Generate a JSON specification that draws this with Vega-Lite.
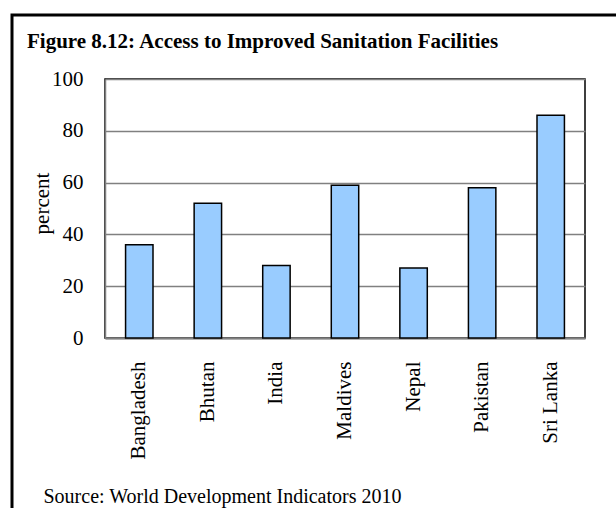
{
  "$schema": "https://vega.github.io/schema/vega-lite/v6.json",
  "autosize": "none",
  "width": 480,
  "height": 259,
  "padding": {"left": 105, "top": 79, "right": 31, "bottom": 170},
  "background": "white",
  "title": {
    "text": "Figure 8.12: Access to Improved Sanitation Facilities",
    "anchor": "start",
    "frame": "group",
    "font": "Liberation Serif",
    "fontSize": 21,
    "fontWeight": "bold",
    "color": "black",
    "dx": -78,
    "dy": 52,
    "offset": 14
  },
  "data": {
    "values": [
      {"country": "Bangladesh", "percent": 36},
      {"country": "Bhutan", "percent": 52},
      {"country": "India", "percent": 28},
      {"country": "Maldives", "percent": 59},
      {"country": "Nepal", "percent": 27},
      {"country": "Pakistan", "percent": 58},
      {"country": "Sri Lanka", "percent": 86}
    ]
  },
  "layer": [
    {
      "mark": {"type": "bar", "fill": "#99CCFF", "stroke": "black", "strokeWidth": 1.5},
      "encoding": {
        "x": {
          "field": "country",
          "type": "nominal",
          "sort": null,
          "scale": {"paddingInner": 0.6, "paddingOuter": 0.3},
          "axis": {
            "labelAngle": -90,
            "labelPadding": 23,
            "ticks": false,
            "labelFont": "Liberation Serif",
            "labelFontSize": 21,
            "labelColor": "black",
            "domainColor": "#808080",
            "domainWidth": 2,
            "title": "Source: World Development Indicators 2010",
            "titleFont": "Liberation Serif",
            "titleFontSize": 20,
            "titleFontWeight": "normal",
            "titleColor": "black",
            "titleAlign": "left",
            "titleAnchor": "start",
            "titleBaseline": "alphabetic",
            "titleX": -62,
            "titleY": 164
          }
        },
        "y": {
          "field": "percent",
          "type": "quantitative",
          "scale": {"domain": [0, 100], "nice": false},
          "axis": {
            "values": [0, 20, 40, 60, 80, 100],
            "grid": true,
            "gridColor": "#808080",
            "gridWidth": 1.5,
            "ticks": false,
            "labelPadding": 22,
            "labelFont": "Liberation Serif",
            "labelFontSize": 21,
            "labelColor": "black",
            "domainColor": "#808080",
            "domainWidth": 1.5,
            "title": "percent",
            "titleFont": "Liberation Serif",
            "titleFontSize": 21,
            "titleFontWeight": "normal",
            "titleColor": "black",
            "titleAngle": -90,
            "titleAlign": "center",
            "titleBaseline": "alphabetic",
            "titleX": -57,
            "titleY": 124
          }
        }
      }
    },
    {
      "data": {"values": [{"frame": 1}]},
      "mark": {"type": "rect", "fill": null, "stroke": "black", "strokeWidth": 3},
      "encoding": {
        "x": {"value": -93},
        "x2": {"value": 520},
        "y": {"value": -64},
        "y2": {"value": 440}
      }
    }
  ],
  "config": {
    "view": {"stroke": "black", "strokeWidth": 1.5}
  }
}
